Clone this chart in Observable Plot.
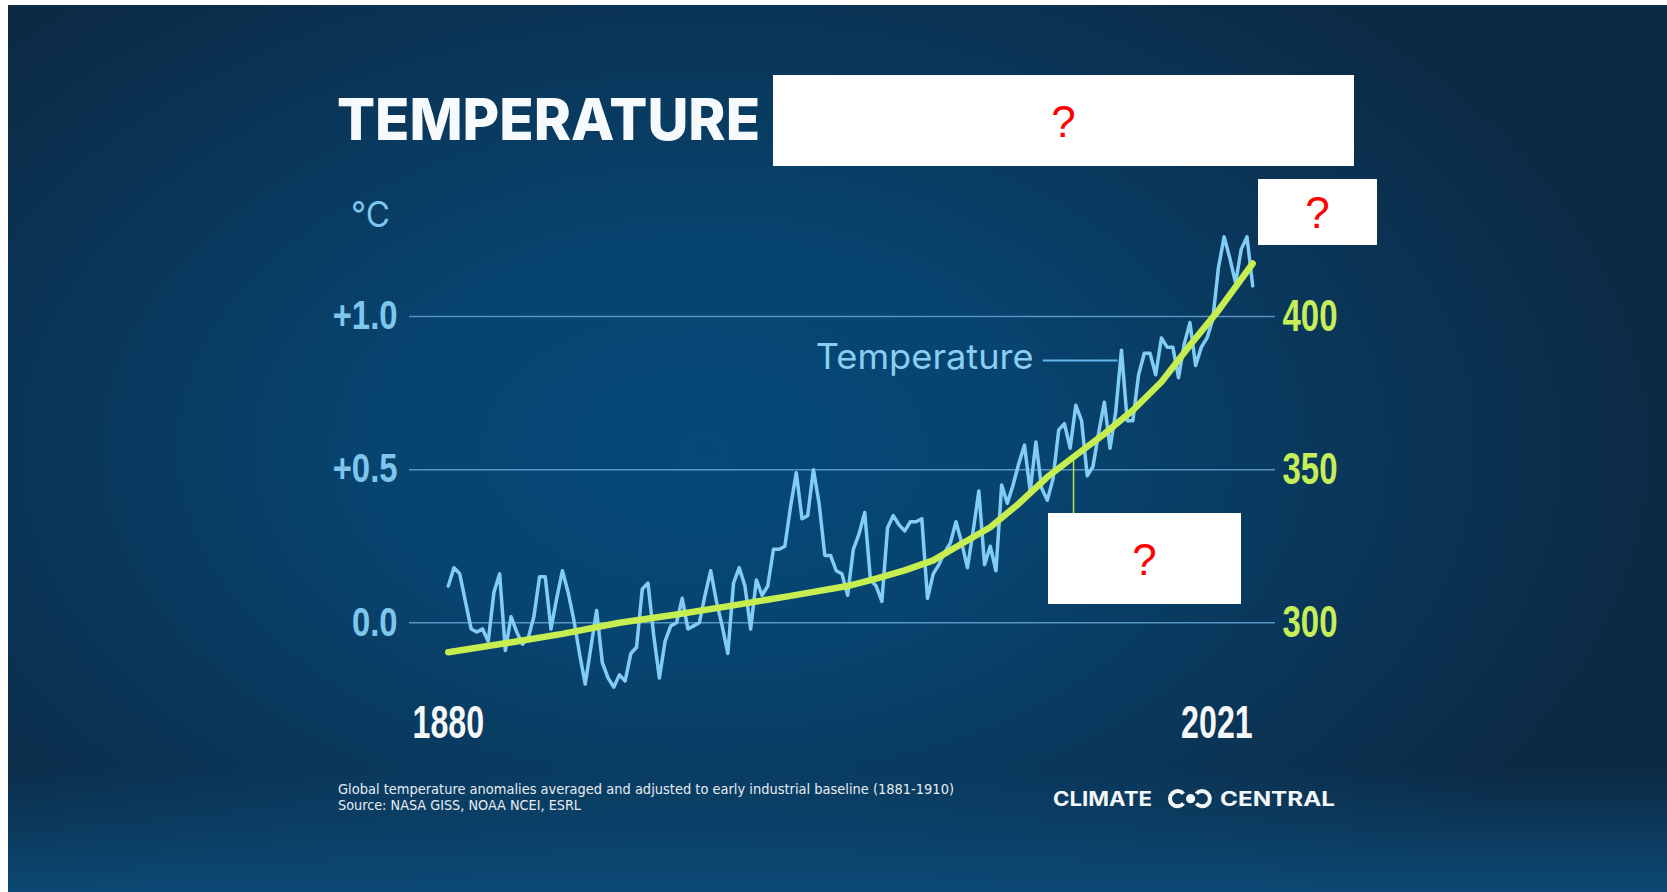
<!DOCTYPE html>
<html>
<head>
<meta charset="utf-8">
<script src="https://cdn.jsdelivr.net/npm/d3@7"></script>
<script src="https://cdn.jsdelivr.net/npm/@observablehq/plot@0.6"></script>
<style>
  html, body { margin: 0; padding: 0; background: #ffffff; overflow: hidden; width: 1667px; height: 892px; }
  #bg {
    position: absolute; left: 8px; top: 5px; width: 1659px; height: 887px;
    background:
      linear-gradient(to bottom, rgba(12,78,124,0) 0%, rgba(12,78,124,0) 86%, rgba(12,78,124,0.85) 100%),
      radial-gradient(ellipse 58% 68% at 42% 50%, #05497a 0%, #07446f 35%, #0a3659 68%, #0c2a44 100%);
  }
  #chart { position: absolute; left: 0; top: 0; }
  #overlay { position: absolute; left: 0; top: 0; pointer-events: none; }
</style>
</head>
<body>
<div id="bg"></div>
<div id="chart"></div>
<svg id="overlay" width="1667" height="892"></svg>
<script>
// ---------------- DATA ----------------
const title = "TEMPERATURE";
const unitLabel = "°C";
const firstYear = 1880;
const lastYear = 2021;
// Global temperature anomaly (°C vs 1881-1910), one value per year 1880..2021
const tempAnomaly = [
  0.12, 0.18, 0.16, 0.07, -0.02, -0.03, -0.02, -0.06, 0.10, 0.16,
  -0.09, 0.02, -0.03, -0.07, -0.05, 0.02, 0.15, 0.15, -0.02, 0.08,
  0.17, 0.10, 0.01, -0.10, -0.20, -0.08, 0.04, -0.13, -0.18, -0.21,
  -0.17, -0.19, -0.10, -0.08, 0.11, 0.13, -0.04, -0.18, -0.06, -0.01,
  0.00, 0.08, -0.02, -0.01, 0.00, 0.09, 0.17, 0.07, -0.01, -0.10,
  0.13, 0.18, 0.12, -0.02, 0.14, 0.09, 0.12, 0.24, 0.24, 0.25,
  0.38, 0.49, 0.34, 0.35, 0.50, 0.39, 0.22, 0.22, 0.17, 0.16,
  0.09, 0.24, 0.29, 0.36, 0.14, 0.12, 0.07, 0.31, 0.35, 0.32,
  0.30, 0.33, 0.33, 0.34, 0.08, 0.16, 0.19, 0.23, 0.26, 0.33,
  0.26, 0.18, 0.30, 0.43, 0.19, 0.25, 0.17, 0.45, 0.39, 0.45,
  0.52, 0.58, 0.43, 0.59, 0.44, 0.40, 0.47, 0.63, 0.65, 0.57,
  0.71, 0.66, 0.48, 0.51, 0.62, 0.72, 0.57, 0.69, 0.89, 0.66,
  0.66, 0.81, 0.88, 0.88, 0.81, 0.93, 0.90, 0.90, 0.80, 0.91,
  0.98, 0.84, 0.90, 0.93, 0.99, 1.16, 1.26, 1.19, 1.11, 1.22,
  1.26, 1.10
];
// Atmospheric CO2 (ppm)
const co2Years = [1880, 1890, 1900, 1910, 1920, 1930, 1940, 1950, 1955, 1960, 1965,
                  1970, 1975, 1980, 1985, 1990, 1995, 2000, 2005, 2010, 2015, 2021];
const co2Ppm   = [290.4, 293.3, 296.4, 300.0, 302.7, 305.7, 308.8, 312.0, 314.4, 317.1, 320.4,
                  325.8, 331.2, 338.9, 347.6, 354.7, 361.7, 369.4, 378.6, 390.6, 402.0, 417.3];
// Tick labels
const tempTicks = [0, 0.5, 1.0];
const tempTickLabels = ["0.0", "+0.5", "+1.0"];
const co2Ticks = [300, 350, 400];
const co2TickLabels = ["300", "350", "400"];
const yearLabels = [1880, 2021];
// Annotations
const tempLeader = {label: "Temperature", x1: 1984.2, x2: 1997.3, y: 0.856};
const co2Leader = {year: 1989.6, from: 354.7, to: 335.7};
const footnote1 = "Global temperature anomalies averaged and adjusted to early industrial baseline (1881-1910)";
const footnote2 = "Source: NASA GISS, NOAA NCEI, ESRL";
const logoLeft = "CLIMATE";
const logoRight = "CENTRAL";

// ---------------- BUILD ----------------
const toT = ppm => tempTicks[0] + (ppm - co2Ticks[0]) * (tempTicks[2] - tempTicks[0]) / (co2Ticks[2] - co2Ticks[0]);
const years = d3.range(firstYear, lastYear + 1);
const temp = years.map((year, i) => ({year, value: tempAnomaly[i]}));
const co2 = co2Years.map((year, i) => ({year, value: toT(co2Ppm[i])}));

const numFont = "'Liberation Sans', Arial, sans-serif";

const plot = Plot.plot({
  width: 1667,
  height: 892,
  marginLeft: 409,
  marginRight: 392,
  marginTop: 208.8,
  marginBottom: 202.3,
  x: {domain: [1873.2, 2025.0]},
  y: {domain: [-0.22, 1.35]},
  style: {background: "transparent", overflow: "visible"},
  marks: [
    Plot.ruleY(tempTicks, {stroke: "#6aaad8", strokeOpacity: 0.8, strokeWidth: 1.5}),
    Plot.axisY(tempTicks, {
      anchor: "left", tickSize: 0, tickPadding: 12, label: null,
      tickFormat: d => tempTickLabels[tempTicks.indexOf(d)],
      color: "#7fc6ee", fontSize: 40, fontWeight: "bold", fontFamily: numFont
    }),
    Plot.axisY(tempTicks, {
      anchor: "right", tickSize: 0, tickPadding: 7, label: null,
      tickFormat: d => co2TickLabels[tempTicks.indexOf(d)],
      color: "#c6ee58", fontSize: 45, fontWeight: "bold", fontFamily: numFont
    }),
    Plot.axisX([yearLabels[0]], {
      anchor: "bottom", tickSize: 0, tickPadding: 15, label: null,
      tickFormat: d => String(d),
      color: "#f5f7f9", fontSize: 46, fontWeight: "bold", fontFamily: numFont
    }),
    Plot.axisX([yearLabels[1]], {
      anchor: "bottom", tickSize: 0, tickPadding: 15, label: null, textAnchor: "end",
      tickFormat: d => String(d),
      color: "#f5f7f9", fontSize: 46, fontWeight: "bold", fontFamily: numFont
    }),
    Plot.link([co2Leader], {
      x1: "year", x2: "year", y1: d => toT(d.from), y2: d => toT(d.to),
      stroke: "#b9e44c", strokeWidth: 1.5
    }),
    Plot.link([tempLeader], {
      x1: "x1", x2: "x2", y1: "y", y2: "y", stroke: "#63b7ea", strokeWidth: 2
    }),
    Plot.text([tempLeader], {
      x: "x1", y: "y", text: "label", textAnchor: "end", dx: -9, dy: -3,
      fill: "#8bcdf3", fontSize: 35, fontFamily: "Inter, 'Open Sans', sans-serif", fontWeight: 400
    }),
    Plot.line(temp, {x: "year", y: "value", stroke: "#82cdf6", strokeWidth: 3.5, strokeLinejoin: "round", strokeLinecap: "round"}),
    Plot.line(co2, {x: "year", y: "value", stroke: "#c7ee50", strokeWidth: 6.5, strokeLinejoin: "round", strokeLinecap: "round"})
  ]
});
document.getElementById("chart").append(plot);

// condense the bold numeric labels (narrow display face in the original); fit the series label
const condense = [{size: 40, k: 0.82}, {size: 45, k: 0.733}, {size: 46, k: 0.70}];
plot.querySelectorAll("text").forEach(t => {
  const fs = parseFloat(getComputedStyle(t).fontSize);
  const c = condense.find(c => Math.abs(c.size - fs) < 0.5);
  if (c) {
    t.setAttribute("textLength", (t.getComputedTextLength() * c.k).toFixed(1));
    t.setAttribute("lengthAdjust", "spacingAndGlyphs");
  } else if (t.textContent === tempLeader.label) {
    t.setAttribute("textLength", 218);
    t.setAttribute("lengthAdjust", "spacingAndGlyphs");
  }
});

// ---------------- OVERLAY (title, unit, notes, logo, masked boxes) ----------------
const ov = d3.select("#overlay");
function addText(s, x, y, o) {
  const t = ov.append("text").attr("x", x).attr("y", y).text(s)
    .attr("fill", o.fill).attr("font-family", o.family).attr("font-size", o.size)
    .attr("font-weight", o.weight || 400).attr("text-anchor", o.anchor || "start");
  if (o.width) t.attr("textLength", o.width).attr("lengthAdjust", "spacingAndGlyphs");
  return t;
}
addText(title, 337, 140, {fill: "#f7fafc", family: "Inter, 'Open Sans', sans-serif", size: 58, weight: 800, width: 423});
addText(unitLabel, 351, 227, {fill: "#7cc6ee", family: "Inter, 'Open Sans', sans-serif", size: 35, weight: 400, width: 39});

// two-line footnote
const noteFont = "'Liberation Sans Narrow', 'DejaVu Sans Condensed', 'Open Sans', sans-serif";
addText(footnote1, 338, 793.5, {fill: "#e6edf3", family: noteFont, size: 13.5, width: 616});
addText(footnote2, 338, 810, {fill: "#e6edf3", family: noteFont, size: 13.5, width: 243});

addText(logoLeft, 1053, 805.7, {fill: "#f4f7fa", family: "Inter, 'Open Sans', sans-serif", size: 19.5, weight: 700, width: 99});
addText(logoRight, 1220, 805.7, {fill: "#f4f7fa", family: "Inter, 'Open Sans', sans-serif", size: 19.5, weight: 700, width: 115});
// logo mark: two open rings with a dot
(function () {
  const cy = 798.7, r = 7.6, a = Math.PI / 4.5;
  const lx = 1177.6, rx = 1202.2;
  ov.append("path")
    .attr("d", `M${lx + r * Math.cos(-a)},${cy + r * Math.sin(-a)} A${r},${r} 0 1 0 ${lx + r * Math.cos(a)},${cy + r * Math.sin(a)}`)
    .attr("fill", "none").attr("stroke", "#f4f7fa").attr("stroke-width", 4);
  ov.append("path")
    .attr("d", `M${rx - r * Math.cos(-a)},${cy + r * Math.sin(-a)} A${r},${r} 0 1 1 ${rx - r * Math.cos(a)},${cy + r * Math.sin(a)}`)
    .attr("fill", "none").attr("stroke", "#f4f7fa").attr("stroke-width", 4);
  ov.append("circle").attr("cx", 1190.6).attr("cy", cy).attr("r", 4.6).attr("fill", "#f4f7fa");
})();
// masked (hidden) label boxes
const masks = [
  {x: 773, y: 75, w: 581, h: 91, base: 137},
  {x: 1258, y: 179, w: 119, h: 66, base: 228},
  {x: 1048, y: 513, w: 193, h: 91, base: 575}
];
masks.forEach(m => {
  ov.append("rect").attr("x", m.x).attr("y", m.y).attr("width", m.w).attr("height", m.h).attr("fill", "#ffffff");
  addText("?", m.x + m.w / 2, m.base, {fill: "#ff0000", family: "'Liberation Sans', Arial, sans-serif", size: 44, anchor: "middle"});
});
</script>
</body>
</html>
